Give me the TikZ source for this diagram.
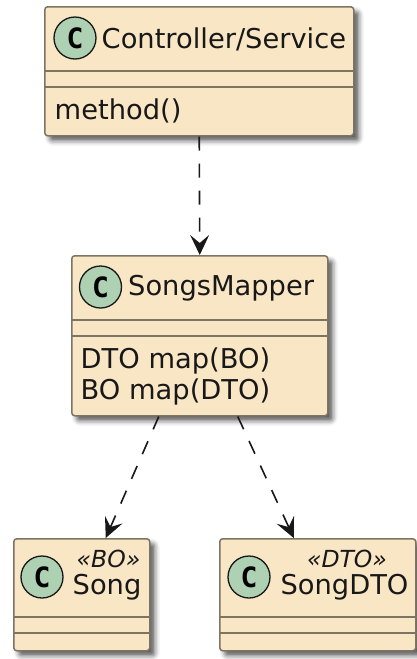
\documentclass[tikz,border=0pt]{standalone}
\usepackage{fontspec}
\setmainfont{DejaVu Sans}
\newfontfamily\spotfont{DejaVu Sans Mono}
\usetikzlibrary{arrows.meta,shadows.blur}

\definecolor{classfill}{RGB}{248,230,197}
\definecolor{classline}{RGB}{125,116,100}
\definecolor{spotfill}{RGB}{173,209,178}
\definecolor{ink}{RGB}{24,24,24}

\tikzset{
  classbox/.style={draw=classline, fill=classfill, line width=1.5pt,
    rounded corners=3pt, inner sep=0pt, anchor=north west,
    blur shadow={shadow xshift=5pt, shadow yshift=-5pt,
      shadow blur radius=5pt, shadow opacity=65}},
  sepline/.style={draw=classline, line width=1.5pt},
  spot/.style={circle, draw=ink, fill=spotfill, line width=1.3pt,
    minimum size=42pt, inner sep=0pt,
    font=\spotfont\bfseries\fontsize{28}{28}\selectfont},
  classname/.style={inner sep=0pt, text=ink,
    font=\fontsize{27.3}{32}\selectfont},
  stereo/.style={inner sep=0pt, anchor=base, text=ink,
    font=\itshape\fontsize{23.5}{28}\selectfont},
  member/.style={inner sep=0pt, anchor=base west, text=ink,
    font=\fontsize{27.3}{32}\selectfont},
  depends/.style={draw=ink, line width=1.6pt, dash pattern=on 14pt off 13pt,
    -{Stealth[length=20pt, width=19pt, inset=8pt]}}
}

\begin{document}
\begin{tikzpicture}[x=1pt, y=-1pt]
\useasboundingbox (0,0) rectangle (417,659);

% Controller/Service
\node[classbox, minimum width=309pt, minimum height=129pt] (ctrl) at (44,6) {};
\draw[sepline] (ctrl.west |- 0,71) -- (ctrl.east |- 0,71);
\draw[sepline] (ctrl.west |- 0,87) -- (ctrl.east |- 0,87);
\node[spot] (ctrlspot) at (75,38) {C};
\node[classname, anchor=base west] (ctrlname) at (101.5,48) {Controller/Service};
\node[member] (ctrlm1) at (54.5,119) {method()};

% SongsMapper
\node[classbox, minimum width=256pt, minimum height=160pt] (mapper) at (71,255) {};
\draw[sepline] (mapper.west |- 0,320) -- (mapper.east |- 0,320);
\draw[sepline] (mapper.west |- 0,336) -- (mapper.east |- 0,336);
\node[spot] (mapperspot) at (100.5,287) {C};
\node[classname, anchor=base west] (mappername) at (128,295) {SongsMapper};
\node[member] (mapperm1) at (80.5,368) {DTO map(BO)};
\node[member] (mapperm2) at (80.5,399) {BO map(DTO)};

% Song
\node[classbox, minimum width=136pt, minimum height=112pt] (song) at (13,538) {};
\draw[sepline] (song.west |- 0,617) -- (song.east |- 0,617);
\draw[sepline] (song.west |- 0,633) -- (song.east |- 0,633);
\node[spot] (songspot) at (42,577) {C};
\node[stereo] (songst) at (108.5,567) {«BO»};
\node[classname, anchor=base] (songname) at (107,594) {Song};

% SongDTO
\node[classbox, minimum width=196pt, minimum height=112pt] (dto) at (219,538) {};
\draw[sepline] (dto.west |- 0,617) -- (dto.east |- 0,617);
\draw[sepline] (dto.west |- 0,633) -- (dto.east |- 0,633);
\node[spot] (dtospot) at (249,577) {C};
\node[stereo] (dtost) at (347,567) {«DTO»};
\node[classname, anchor=base] (dtoname) at (344.5,594) {SongDTO};

% dependencies
\draw[depends] (ctrl.south) -- (mapper.north);
\draw[depends] ([xshift=-41pt]mapper.south) -- ([xshift=24pt]song.north);
\draw[depends] ([xshift=38pt]mapper.south) -- ([xshift=-24pt]dto.north);
\end{tikzpicture}
\end{document}
